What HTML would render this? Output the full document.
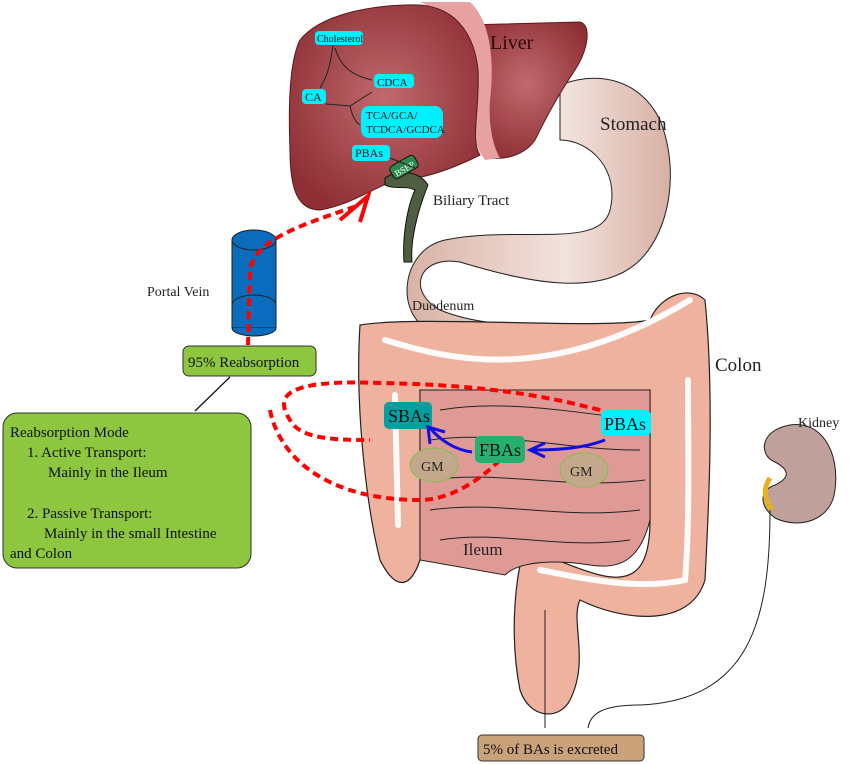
<!DOCTYPE html>
<html><head><meta charset="utf-8"><style>
html,body{margin:0;padding:0;background:#fff;}
svg{display:block;font-family:"Liberation Serif",serif;}
</style></head><body>
<svg width="850" height="764" viewBox="0 0 850 764" xmlns="http://www.w3.org/2000/svg">
<defs>
<radialGradient id="lv" cx="0.5" cy="0.45" r="0.6"><stop offset="0" stop-color="#c06a6e"/><stop offset="1" stop-color="#8e2f35"/></radialGradient>
<linearGradient id="st" x1="0" y1="0" x2="1" y2="0"><stop offset="0" stop-color="#d9b2a5"/><stop offset="0.6" stop-color="#f2e3dd"/><stop offset="1" stop-color="#d8b0a4"/></linearGradient>
</defs>
<!-- stomach -->
<path d="M560,85 C600,70 640,80 660,120 C680,170 670,230 640,260 C600,300 520,280 460,262 C420,255 405,290 440,310 C500,335 580,320 640,330 L645,350 C560,352 470,345 430,330 C395,315 400,250 445,240 C520,225 600,250 610,210 C620,170 590,140 560,140 Z" fill="url(#st)" stroke="#222" stroke-width="1"/>
<!-- liver right lobe -->
<path d="M465,25 L580,22 C592,25 588,50 575,70 C555,100 545,120 535,140 C525,155 505,160 490,158 Z" fill="url(#lv)" stroke="#5a1a1e" stroke-width="1"/>
<!-- pink strip -->
<path d="M420,2 L470,2 C490,20 495,60 490,100 C488,130 495,150 500,158 L485,160 C470,140 468,110 472,80 C476,50 465,20 420,2 Z" fill="#e6a1a0"/>
<!-- liver left lobe -->
<path d="M420,5 C460,8 475,40 478,70 C480,110 470,140 480,155 C450,170 420,180 395,180 C370,190 350,205 320,210 C298,210 290,190 290,150 C288,100 290,60 300,40 C320,15 370,4 420,5 Z" fill="url(#lv)" stroke="#5a1a1e" stroke-width="1"/>
<text x="490" y="49" font-size="20" fill="#2a0a0a">Liver</text>
<text x="600" y="130" font-size="19" fill="#222">Stomach</text>
<!-- biliary tract -->
<path d="M385,178 C400,168 420,172 428,185 C418,210 410,240 412,262 L404,262 C402,235 408,205 415,190 C405,185 395,190 385,185 Z" fill="#4f5e40" stroke="#111"/>
<rect x="390" y="160" width="28" height="14" rx="4" fill="#2d8a4f" stroke="#111" transform="rotate(-30 404 167)"/>
<text x="393" y="172" font-size="9" fill="#fff" transform="rotate(-30 404 167)">BSEP</text>
<text x="433" y="205" font-size="15" fill="#222">Biliary Tract</text>
<text x="412" y="310" font-size="14" fill="#222">Duodenum</text>
<path d="M448,322 C475,335 500,338 520,336" fill="none" stroke="#111" stroke-width="1.5"/>
<path d="M540,331 C570,326 600,324 620,327" fill="none" stroke="#111" stroke-width="1.5"/>
<!-- liver labels -->
<g font-size="10" fill="#111">
<rect x="315" y="31" width="48" height="14" rx="4" fill="#00f0ff"/><text x="317" y="42">Cholesterol</text>
<rect x="302" y="89" width="24" height="15" rx="4" fill="#00f0ff"/><text x="305" y="101" font-size="12">CA</text>
<rect x="374" y="74" width="40" height="14" rx="4" fill="#00f0ff"/><text x="377" y="86" font-size="11">CDCA</text>
<rect x="361" y="106" width="82" height="32" rx="8" fill="#00f0ff"/><text x="366" y="119" font-size="11">TCA/GCA/</text><text x="366" y="133" font-size="11">TCDCA/GCDCA</text>
<rect x="352" y="145" width="38" height="16" rx="4" fill="#00f0ff"/><text x="355" y="157" font-size="12">PBAs</text>
</g>
<path d="M333,45 C330,70 325,80 320,88 M335,48 C340,65 350,75 372,80 M326,104 L350,106 L372,92 M350,106 C352,115 355,122 360,125 M390,158 L415,168" fill="none" stroke="#222" stroke-width="1"/>
<!-- colon -->
<path d="M360,325 C420,315 600,330 650,320 C660,295 690,285 705,300 C715,400 708,520 705,580 C690,630 620,620 580,600 C570,620 590,660 570,700 C560,720 530,720 520,690 C510,640 515,590 520,565 C540,545 560,565 600,575 C640,585 650,560 650,520 L650,390 C600,395 470,395 420,390 L420,560 C410,590 395,590 380,560 C365,500 355,400 360,325 Z" fill="#efb29f" stroke="#222" stroke-width="1.2"/>
<!-- small intestine -->
<path d="M420,390 L650,390 L650,520 C640,560 620,570 590,565 C560,560 520,560 505,575 L420,560 Z" fill="#e09a95" stroke="#222" stroke-width="1"/>
<g fill="none" stroke="#222" stroke-width="1">
<path d="M440,410 C500,400 560,410 640,420 M430,440 C500,430 560,450 640,450 M430,480 C500,470 570,490 645,480 M430,510 C500,500 560,520 640,510 M440,540 C500,530 560,550 630,540"/>
</g>
<g fill="none" stroke="#fff" stroke-width="6" stroke-linecap="round" opacity="0.95">
<path d="M385,340 C450,360 550,385 690,300"/>
<path d="M688,380 C688,450 690,520 685,580 C640,590 590,580 540,570"/>
<path d="M395,395 L398,525"/>
</g>
<text x="715" y="371" font-size="19" fill="#222">Colon</text>
<text x="463" y="555" font-size="17" fill="#222">Ileum</text>
<!-- portal vein -->
<rect x="232" y="240" width="44" height="88" fill="#0b6bbd" stroke="#222"/>
<ellipse cx="254" cy="240" rx="22" ry="10" fill="#0b6bbd" stroke="#222"/>
<path d="M232,305 A22,10 0 0 1 276,305" fill="none" stroke="#222"/>
<path d="M232,328 A22,8 0 0 0 276,328" fill="#0b6bbd" stroke="#222"/>
<text x="147" y="296" font-size="14" fill="#222">Portal Vein</text>
<!-- red dashed -->
<g fill="none" stroke="#f00" stroke-width="4" stroke-dasharray="8,5">
<path d="M248,345 L250,270 C255,240 300,225 360,205"/>
<path d="M600,410 C560,400 500,385 380,383 C300,380 270,390 290,420 C300,440 340,440 370,440"/>
<path d="M270,410 C280,460 330,500 420,500 C450,500 480,480 500,460"/>
</g>
<path d="M340,220 L368,196 L360,222" fill="none" stroke="#f00" stroke-width="4"/>
<!-- boxes in intestine -->
<ellipse cx="434" cy="465" rx="24" ry="17" fill="#c4a88c" stroke="#7fbf4f"/><text x="421" y="471" font-size="14" fill="#222">GM</text>
<ellipse cx="584" cy="470" rx="24" ry="17" fill="#c4a88c" stroke="#7fbf4f"/><text x="570" y="476" font-size="14" fill="#222">GM</text>
<rect x="384" y="402" width="48" height="27" rx="5" fill="#00a0a0"/><text x="388" y="422" font-size="18" fill="#111">SBAs</text>
<rect x="475" y="436" width="50" height="27" rx="5" fill="#25b070"/><text x="479" y="456" font-size="18" fill="#111">FBAs</text>
<rect x="601" y="410" width="50" height="26" rx="6" fill="#00f0ff"/><text x="604" y="430" font-size="18" fill="#111">PBAs</text>
<g fill="none" stroke="#1010e0" stroke-width="3">
<path d="M605,440 C585,448 560,450 530,450 M545,443 L530,450 L545,457"/>
<path d="M472,452 C455,450 440,440 430,428 M430,444 L428,427 L445,432"/>
</g>
<!-- kidney -->
<path d="M790,425 C820,420 840,450 835,490 C832,520 800,530 775,518 C758,505 760,490 775,485 C790,478 790,470 775,462 C758,455 760,430 790,425 Z" fill="#c0a09a" stroke="#222"/>
<path d="M770,478 C762,490 765,500 772,510" fill="none" stroke="#e8b020" stroke-width="5"/>
<text x="798" y="427" font-size="14" fill="#222">Kidney</text>
<path d="M770,510 C770,620 750,700 640,705 C600,705 590,715 588,728" fill="none" stroke="#222"/>
<path d="M545,610 L545,728" fill="none" stroke="#222"/>
<!-- green boxes -->
<line x1="230" y1="377" x2="195" y2="411" stroke="#111" stroke-width="1.3"/>
<rect x="183" y="346" width="133" height="30" rx="6" fill="#8dc63f" stroke="#333"/>
<text x="188" y="367" font-size="15" fill="#111">95% Reabsorption</text>
<rect x="3" y="413" width="248" height="155" rx="14" fill="#8dc63f" stroke="#333"/>
<g font-size="15" fill="#111">
<text x="10" y="437">Reabsorption Mode</text>
<text x="27" y="457">1. Active Transport:</text>
<text x="48" y="477">Mainly in the Ileum</text>
<text x="27" y="518">2. Passive Transport:</text>
<text x="44" y="538">Mainly in the small Intestine</text>
<text x="10" y="558">and Colon</text>
</g>
<rect x="478" y="735" width="166" height="26" rx="4" fill="#c9a27a" stroke="#333"/>
<text x="483" y="754" font-size="15" fill="#111">5% of BAs is excreted</text>
</svg>
</body></html>
